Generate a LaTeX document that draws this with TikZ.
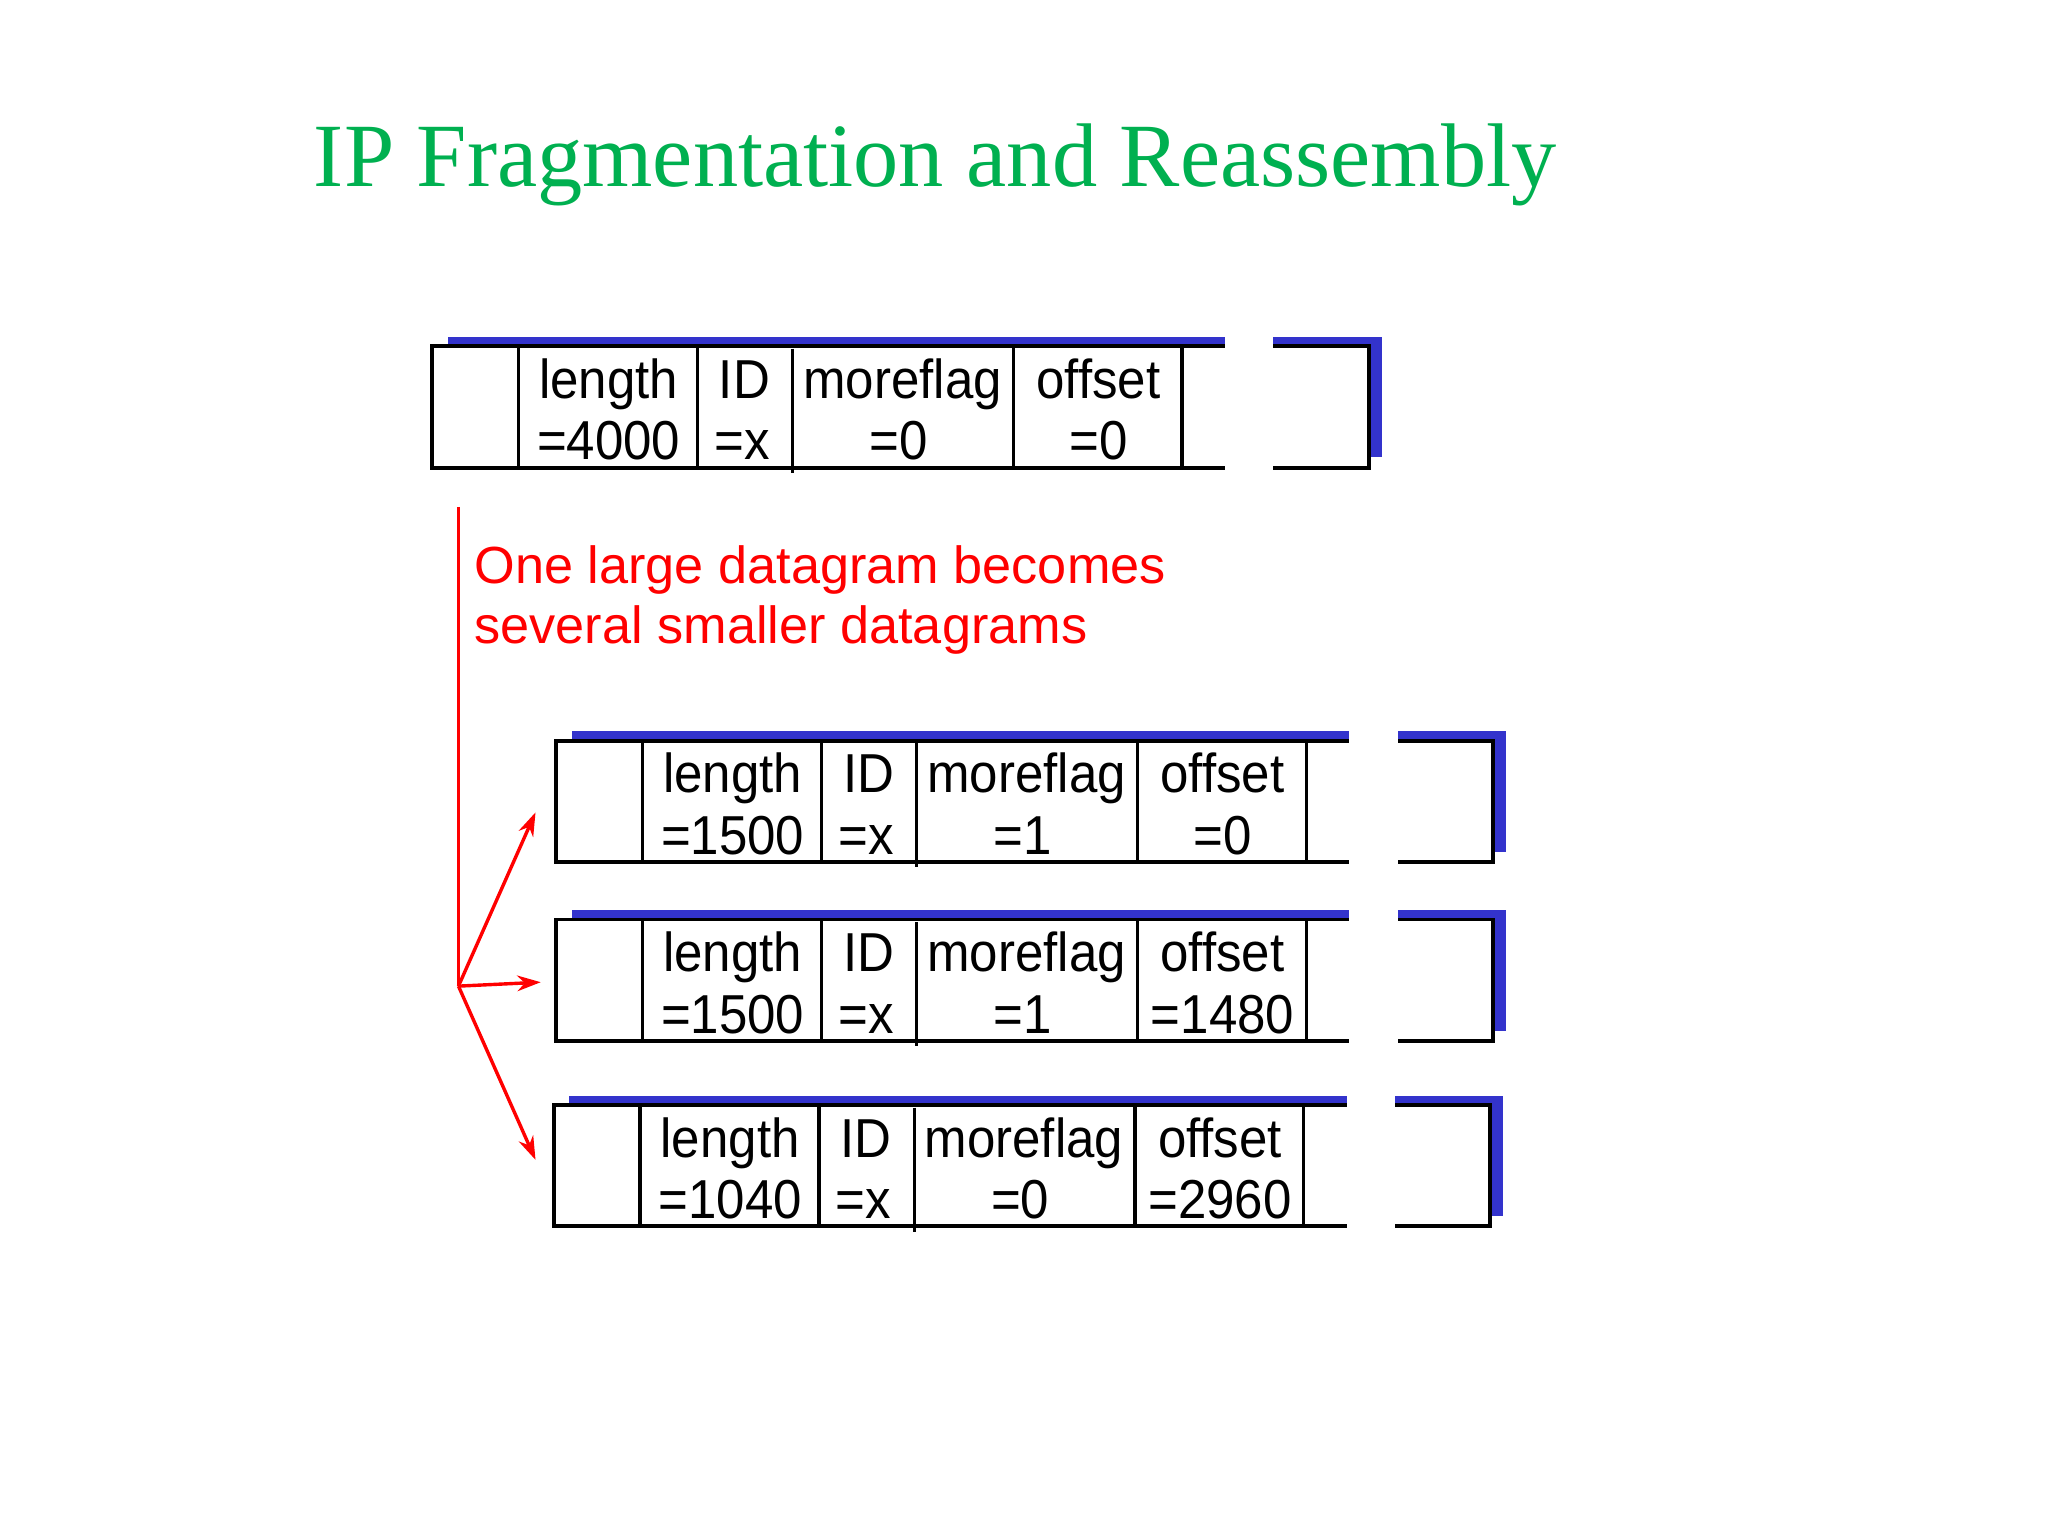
\documentclass[tikz,border=0pt]{standalone}
\usepackage{fontspec}
\setmainfont{Liberation Serif}
\newfontfamily\boxfont[FakeStretch=0.93]{Liberation Sans}
\newfontfamily\labelfont{Liberation Sans}
\usetikzlibrary{arrows.meta}
\definecolor{titlegreen}{RGB}{0,176,80}
\definecolor{shadowblue}{RGB}{51,51,204}
\definecolor{redtext}{RGB}{255,0,0}
\tikzset{
  boxline/.style={line width=1.5pt, draw=black},
  divline/.style={line width=1.2pt, draw=black},
  celltext/.style={anchor=base, inner sep=0pt, font=\boxfont\fontsize{21}{23}\selectfont},
  redline/.style={draw=redtext, line width=1.3pt},
  redarrow/.style={draw=redtext, line width=1.3pt, -{Stealth[length=9pt,width=6pt]}},
  redlabel/.style={anchor=base west, inner sep=0pt, text=redtext, font=\labelfont\fontsize{20}{24}\selectfont},
}
\newcommand\dgram[7]{%
  \fill[shadowblue] (#2+12,#3-7) rectangle (#2+727,#3+85);
  \draw[boxline, fill=white] (#2,#3) rectangle (#2+717,#3+93);
  \draw[divline] (#2+66,#3) -- (#2+66,#3+93);
  \draw[divline] (#2+203,#3) -- (#2+203,#3+93);
  \draw[divline] (#2+276,#3+2) -- (#2+276,#3+97);
  \draw[divline] (#2+445,#3) -- (#2+445,#3+93);
  \draw[divline] (#2+574,#3) -- (#2+574,#3+93);
  \fill[white] (#2+607,#3-10) rectangle (#2+644,#3+97);
  \node[celltext] (#1-len-a) at (#2+135,#3+40) {length};
  \node[celltext] (#1-len-b) at (#2+135,#3+87) {=#4};
  \node[celltext] (#1-id-a) at (#2+239,#3+40) {ID};
  \node[celltext] (#1-id-b) at (#2+237,#3+87) {=#5};
  \node[celltext] (#1-flag-a) at (#2+360,#3+40) {moreflag};
  \node[celltext] (#1-flag-b) at (#2+357,#3+87) {=#6};
  \node[celltext] (#1-off-a) at (#2+510,#3+40) {offset};
  \node[celltext] (#1-off-b) at (#2+510,#3+87) {=#7};
}
\begin{document}
\begin{tikzpicture}[x=0.5pt, y=-0.5pt]
  \useasboundingbox[fill=white] (0,0) rectangle (1568,1176);
  \node[anchor=base west, inner sep=0pt, text=titlegreen,
        font=\fontsize{34.6}{40}\selectfont] (title) at (240,143)
        {IP Fragmentation and Reassembly};

  \dgram{big}{331}{265}{4000}{x}{0}{0}
  \dgram{fragA}{426}{567}{1500}{x}{1}{0}
  \dgram{fragB}{426}{704}{1500}{x}{1}{1480}
  \dgram{fragC}{424}{846}{1040}{x}{0}{2960}

  \node[redlabel] (cap1) at (363,447) {One large datagram becomes};
  \node[redlabel] (cap2) at (363,493) {several smaller datagrams};

  \coordinate (src) at (351,388);
  \coordinate (branch) at (351,755);
  \coordinate (toA) at (410,622);
  \coordinate (toB) at (414,752);
  \coordinate (toC) at (410,888);
  \draw[redline] (src) -- (branch);
  \draw[redarrow] (branch) -- (toA);
  \draw[redarrow] (branch) -- (toB);
  \draw[redarrow] (branch) -- (toC);
\end{tikzpicture}
\end{document}
